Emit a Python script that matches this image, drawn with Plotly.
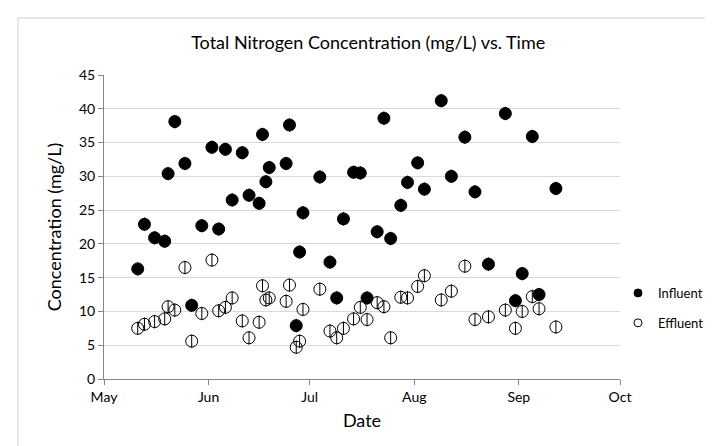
import plotly.graph_objects as go

# Sampling dates and total nitrogen (mg/L)
influent_dates = [
    '2012-05-11', '2012-05-13', '2012-05-16', '2012-05-19', '2012-05-20',
    '2012-05-22', '2012-05-25', '2012-05-27', '2012-05-30', '2012-06-02',
    '2012-06-04', '2012-06-06', '2012-06-08', '2012-06-11', '2012-06-13',
    '2012-06-16', '2012-06-17', '2012-06-18', '2012-06-19', '2012-06-24',
    '2012-06-25', '2012-06-27', '2012-06-28', '2012-06-29', '2012-07-04',
    '2012-07-07', '2012-07-09', '2012-07-11', '2012-07-14', '2012-07-16',
    '2012-07-18', '2012-07-21', '2012-07-23', '2012-07-25', '2012-07-28',
    '2012-07-30', '2012-08-02', '2012-08-04', '2012-08-09', '2012-08-12',
    '2012-08-16', '2012-08-19', '2012-08-23', '2012-08-28', '2012-08-31',
    '2012-09-02', '2012-09-05', '2012-09-07', '2012-09-12',
]
influent = [
    16.3, 22.9, 20.9, 20.4, 30.4,
    38.1, 31.9, 10.9, 22.7, 34.3,
    22.2, 34.0, 26.5, 33.5, 27.2,
    26.0, 36.2, 29.2, 31.3, 31.9,
    37.6, 7.9, 18.8, 24.6, 29.9,
    17.3, 12.0, 23.7, 30.6, 30.5,
    12.0, 21.8, 38.6, 20.8, 25.7,
    29.1, 32.0, 28.1, 41.2, 30.0,
    35.8, 27.7, 17.0, 39.3, 11.6,
    15.6, 35.9, 12.5, 28.2,
]

effluent_dates = [
    '2012-05-11', '2012-05-13', '2012-05-16', '2012-05-19', '2012-05-20',
    '2012-05-22', '2012-05-25', '2012-05-27', '2012-05-30', '2012-06-02',
    '2012-06-04', '2012-06-06', '2012-06-08', '2012-06-11', '2012-06-13',
    '2012-06-16', '2012-06-17', '2012-06-18', '2012-06-19', '2012-06-24',
    '2012-06-25', '2012-06-27', '2012-06-28', '2012-06-29', '2012-07-04',
    '2012-07-07', '2012-07-09', '2012-07-11', '2012-07-14', '2012-07-16',
    '2012-07-18', '2012-07-21', '2012-07-23', '2012-07-25', '2012-07-28',
    '2012-07-30', '2012-08-02', '2012-08-04', '2012-08-09', '2012-08-12',
    '2012-08-16', '2012-08-19', '2012-08-23', '2012-08-28', '2012-08-31',
    '2012-09-02', '2012-09-05', '2012-09-07', '2012-09-12',
]
effluent = [
    7.5, 8.1, 8.5, 8.9, 10.7,
    10.2, 16.5, 5.6, 9.7, 17.6,
    10.1, 10.6, 12.0, 8.6, 6.1,
    8.4, 13.8, 11.7, 12.0, 11.5,
    13.9, 4.7, 5.6, 10.3, 13.3,
    7.1, 6.1, 7.5, 8.9, 10.6,
    8.8, 11.3, 10.7, 6.1, 12.1,
    12.0, 13.7, 15.3, 11.7, 13.0,
    16.7, 8.8, 9.2, 10.2, 7.5,
    10.0, 12.2, 10.4, 7.7,
]

month_ticks = ['2012-05-01', '2012-06-01', '2012-07-01', '2012-08-01', '2012-09-01', '2012-10-01']
month_labels = ['May', 'Jun', 'Jul', 'Aug', 'Sep', 'Oct']

FONT = 'Lato, "Open Sans", sans-serif'
err = dict(type='constant', value=1.0, width=0, thickness=1, color='black')

fig = go.Figure()
fig.add_trace(go.Scatter(
    x=influent_dates, y=influent, mode='markers', name='Influent',
    showlegend=False,
    marker=dict(size=12, color='black', line=dict(color='black', width=1)),
    error_y=err,
))
fig.add_trace(go.Scatter(
    x=effluent_dates, y=effluent, mode='markers', name='Effluent',
    showlegend=False,
    marker=dict(size=12, color='rgba(0,0,0,0)', line=dict(color='black', width=1)),
    error_y=err,
))
# legend entries with the small key markers of the original
fig.add_trace(go.Scatter(
    x=[None], y=[None], mode='markers', name='Influent', legendgroup='a',
    marker=dict(size=8, color='black', line=dict(color='black', width=1)),
))
fig.add_trace(go.Scatter(
    x=[None], y=[None], mode='markers', name='Effluent', legendgroup='b',
    marker=dict(size=8, color='white', line=dict(color='black', width=1)),
))

fig.update_layout(
    width=713, height=446,
    margin=dict(l=96, r=101, t=67, b=75, autoexpand=False),
    paper_bgcolor='white', plot_bgcolor='white',
    font=dict(family=FONT, size=14, color='black'),
    title=dict(
        text='Total Nitrogen Concentration (mg/L) vs. Time',
        font=dict(size=18, family=FONT, color='black'),
        x=0.512, xref='paper', xanchor='center',
        y=1 - 35 / 446, yref='container', yanchor='middle',
    ),
    xaxis=dict(
        type='date', range=['2012-05-01', '2012-10-01'],
        tickvals=month_ticks, ticktext=month_labels,
        showgrid=False, zeroline=False, automargin=False,
        showline=True, linecolor='#868686', linewidth=1,
        ticks='outside', ticklen=5, tickcolor='#868686',
        tickfont=dict(size=14),
        title=dict(text='Date', font=dict(size=18), standoff=10),
    ),
    yaxis=dict(
        range=[0, 45], dtick=5, tick0=0, automargin=False,
        showgrid=True, gridcolor='#d9d9d9', gridwidth=1,
        zeroline=False,
        showline=True, linecolor='#868686', linewidth=1,
        ticks='outside', ticklen=5, tickcolor='#868686',
        tickfont=dict(size=14),
        title=dict(text='Concentration (mg/L)', font=dict(size=18), standoff=12),
    ),
    legend=dict(
        xref='container', yref='container',
        x=610 / 713, xanchor='left', y=1 - 300 / 446, yanchor='middle',
        itemsizing='trace', itemwidth=30, tracegroupgap=10,
        font=dict(size=13), bgcolor='rgba(0,0,0,0)',
    ),
    shapes=[dict(
        type='rect', xref='paper', yref='paper',
        x0=-0.1667, x1=1.21, y0=-0.3, y1=1.1875,
        line=dict(color='#d0d0d0', width=1), layer='below',
    )],
)

fig.write_html('out.html')
